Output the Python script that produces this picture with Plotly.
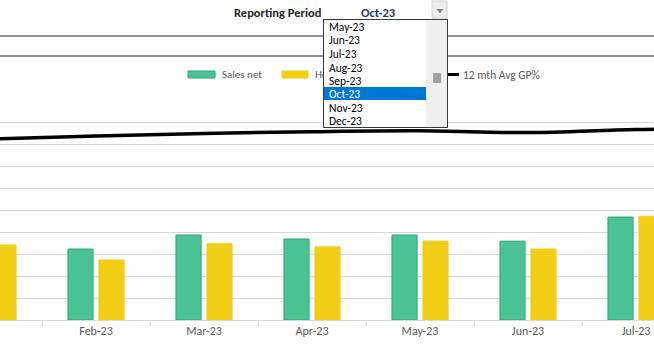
import plotly.graph_objects as go

# ---------------- data ----------------
months = ["Jan-23", "Feb-23", "Mar-23", "Apr-23", "May-23", "Jun-23", "Jul-23", "Aug-23"]
sales_net = [178000, 162000, 194000, 185000, 194000, 180000, 235000, None]
head_sales = [171000, 137000, 174000, 167000, 180000, 162000, 237000, None]
avg_gp_pct = [41.3, 42.0, 42.6, 43.0, 43.2, 42.8, 43.5, 43.7]
series_names = ["Sales net", "Headline sales", "12 mth Avg GP%"]

period_label = "Reporting Period"
selected_period = "Oct-23"
dropdown_items = ["May-23", "Jun-23", "Jul-23", "Aug-23", "Sep-23", "Oct-23", "Nov-23", "Dec-23"]

# ---------------- styling ----------------
W, H = 654, 351
TOP, BOT = 101, 320          # plot-area pixel rows
GREEN, GREEN_EDGE = "#4CC394", "#2EA674"
YELLOW = "#F2CE17"
GRID = "#D9D9D9"
TXT = "#595959"
FONT = "Carlito, Calibri, Lato, sans-serif"


def px(x):
    return x / W


def py(y):
    return (BOT - y) / (BOT - TOP)


fig = go.Figure()
fig.add_trace(go.Bar(x=months, y=sales_net, name=series_names[0],
                     marker=dict(color=GREEN, line=dict(color=GREEN_EDGE, width=1)),
                     showlegend=False))
fig.add_trace(go.Bar(x=months, y=head_sales, name=series_names[1],
                     marker=dict(color=YELLOW, line=dict(color=YELLOW, width=1)),
                     showlegend=False))
fig.add_trace(go.Scatter(x=months, y=avg_gp_pct, name=series_names[2], yaxis="y2",
                         mode="lines", line=dict(color="black", width=3.5, shape="spline"),
                         showlegend=False))

shapes = []
annotations = []

# top cell border lines
for yy in (36, 56):
    shapes.append(dict(type="line", xref="paper", yref="paper", x0=0, x1=1,
                       y0=py(yy), y1=py(yy), line=dict(color="#262626", width=1.2), layer="above"))

# dropdown button (shapes; nothing covers them)
shapes.append(dict(type="rect", xref="paper", yref="paper", x0=px(432), x1=px(447),
                   y0=py(18), y1=py(1), fillcolor="#EDEDED", line=dict(color="#D4D4D4", width=1),
                   layer="above"))
shapes.append(dict(type="path", xref="paper", yref="paper",
                   path="M %f %f L %f %f L %f %f Z" % (px(436.5), py(9), px(443.5), py(9), px(440), py(13)),
                   fillcolor="#808080", line=dict(width=0), layer="above"))

# manual legend
leg_y = 74.5
shapes.append(dict(type="rect", xref="paper", yref="paper", x0=px(188), x1=px(215),
                   y0=py(78), y1=py(71), fillcolor=GREEN, line=dict(color=GREEN_EDGE, width=1), layer="above"))
annotations.append(dict(text=series_names[0], x=px(220), y=py(leg_y), xref="paper", yref="paper",
                        xanchor="left", yanchor="middle", showarrow=False,
                        font=dict(family=FONT, size=11, color=TXT)))
shapes.append(dict(type="rect", xref="paper", yref="paper", x0=px(282), x1=px(308),
                   y0=py(78), y1=py(71), fillcolor=YELLOW, line=dict(color=YELLOW, width=1), layer="above"))
annotations.append(dict(text=series_names[1], x=px(313), y=py(leg_y), xref="paper", yref="paper",
                        xanchor="left", yanchor="middle", showarrow=False,
                        font=dict(family=FONT, size=11, color=TXT)))
shapes.append(dict(type="line", xref="paper", yref="paper", x0=px(432), x1=px(459),
                   y0=py(leg_y), y1=py(leg_y), line=dict(color="black", width=3), layer="above"))
annotations.append(dict(text=series_names[2], x=px(461), y=py(leg_y), xref="paper", yref="paper",
                        xanchor="left", yanchor="middle", showarrow=False,
                        font=dict(family=FONT, size=11.5, color=TXT)))

# header text
annotations.append(dict(text="<b>%s</b>" % period_label, x=px(323), y=py(12), xref="paper", yref="paper",
                        xanchor="right", yanchor="middle", showarrow=False,
                        font=dict(family=FONT, size=12.5, color="#262626")))
annotations.append(dict(text="<b>%s</b>" % selected_period, x=px(359), y=py(12), xref="paper", yref="paper",
                        xanchor="left", yanchor="middle", showarrow=False,
                        font=dict(family=FONT, size=12.5, color="#1F3864")))

# dropdown list box
annotations.append(dict(text="", x=px(323), y=py(18.5), xref="paper", yref="paper",
                        xanchor="left", yanchor="top", showarrow=False, width=123, height=107,
                        bgcolor="white", bordercolor="#3A3A3A", borderwidth=1, borderpad=0))
# scrollbar
annotations.append(dict(text="", x=px(426), y=py(19.5), xref="paper", yref="paper",
                        xanchor="left", yanchor="top", showarrow=False, width=21, height=107,
                        bgcolor="#F0F0F0", borderwidth=0, borderpad=0))
annotations.append(dict(text="", x=px(433), y=py(73), xref="paper", yref="paper",
                        xanchor="left", yanchor="top", showarrow=False, width=8, height=10,
                        bgcolor="#A0A0A0", borderwidth=0, borderpad=0))
# highlight
annotations.append(dict(text="", x=px(324), y=py(87), xref="paper", yref="paper",
                        xanchor="left", yanchor="top", showarrow=False, width=102, height=13,
                        bgcolor="#0078D7", borderwidth=0, borderpad=0))
item_y = [27, 40.5, 54, 67.5, 81, 94, 107.5, 121]
for item, yy in zip(dropdown_items, item_y):
    col = "white" if item == selected_period else "black"
    annotations.append(dict(text=item, x=px(327), y=py(yy), xref="paper", yref="paper",
                            xanchor="left", yanchor="middle", showarrow=False,
                            font=dict(family=FONT, size=11.5, color=col)))

fig.update_layout(
    width=W, height=H,
    margin=dict(l=0, r=0, t=TOP, b=H - BOT, pad=0),
    paper_bgcolor="white", plot_bgcolor="white",
    barmode="group", bargap=0.426, bargroupgap=0.19,
    xaxis=dict(type="category", range=[0.111, 0.111 + W / 108.0],
               showline=True, linecolor=GRID, linewidth=1,
               ticks="outside", tickson="boundaries", ticklen=5, tickcolor=GRID,
               tickfont=dict(family=FONT, size=12, color=TXT), showgrid=False),
    yaxis=dict(range=[0, 500000], dtick=50000, showgrid=True, gridcolor=GRID, gridwidth=1,
               showticklabels=False, zeroline=False, ticks=""),
    yaxis2=dict(range=[0, 50], overlaying="y", side="right", showgrid=False,
                showticklabels=False, zeroline=False, ticks=""),
    shapes=shapes, annotations=annotations, showlegend=False,
)

fig.write_html("out.html")
